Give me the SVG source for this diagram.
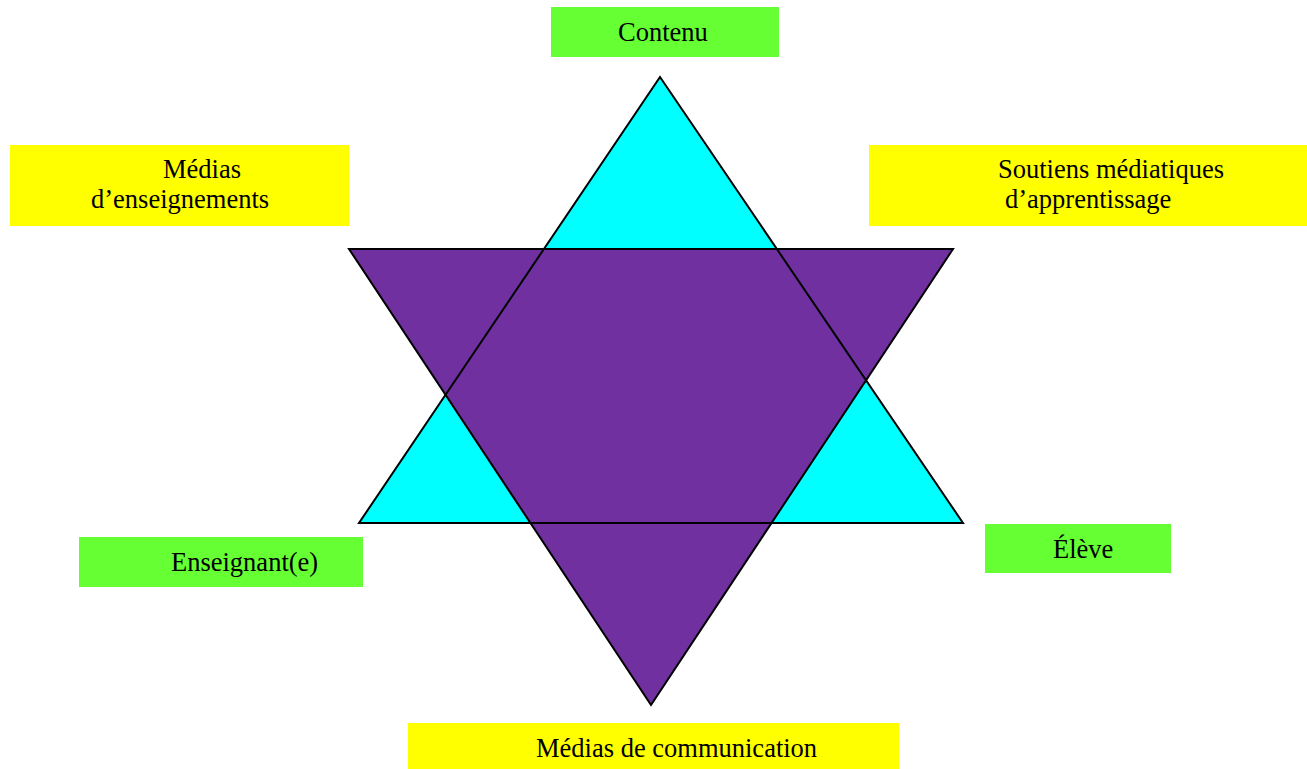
<svg xmlns="http://www.w3.org/2000/svg" width="1307" height="769" viewBox="0 0 1307 769">
<style>
.lbl{font-family:"Liberation Serif","Times New Roman",serif;font-size:26.5px;fill:#000}
.g{fill:#66FF33}
.y{fill:#FFFF00}
.edge{fill:none;stroke:#000;stroke-width:2;stroke-linejoin:miter}
</style>
<rect width="1307" height="769" fill="#fff"/>
<g id="star">
<polygon points="660,77 963,523 359,523" fill="#00FFFF"/>
<polygon points="349,249 953,249 651,705" fill="#7030A0"/>
<polygon class="edge" points="349,249 953,249 651,705"/>
<polygon class="edge" points="660,77 963,523 359,523"/>
</g>
<g id="contenu"><rect class="g" x="551" y="7" width="228" height="50"/><text class="lbl" x="618" y="41">Contenu</text></g>
<g id="medias-enseignements"><rect class="y" x="10" y="145" width="339" height="81"/><text class="lbl" x="163" y="178">Médias</text><text class="lbl" x="91" y="208">d’enseignements</text></g>
<g id="soutiens"><rect class="y" x="869" y="145" width="438" height="81"/><text class="lbl" x="998" y="178">Soutiens médiatiques</text><text class="lbl" x="1005" y="208">d’apprentissage</text></g>
<g id="enseignant"><rect class="g" x="79" y="537" width="284" height="50"/><text class="lbl" x="171" y="571">Enseignant(e)</text></g>
<g id="eleve"><rect class="g" x="985" y="524" width="186" height="49"/><text class="lbl" x="1053" y="558">Élève</text></g>
<g id="medias-communication"><rect class="y" x="408" y="723" width="491" height="46"/><text class="lbl" x="536" y="757">Médias de communication</text></g>
<g id="connectors"></g>
</svg>
